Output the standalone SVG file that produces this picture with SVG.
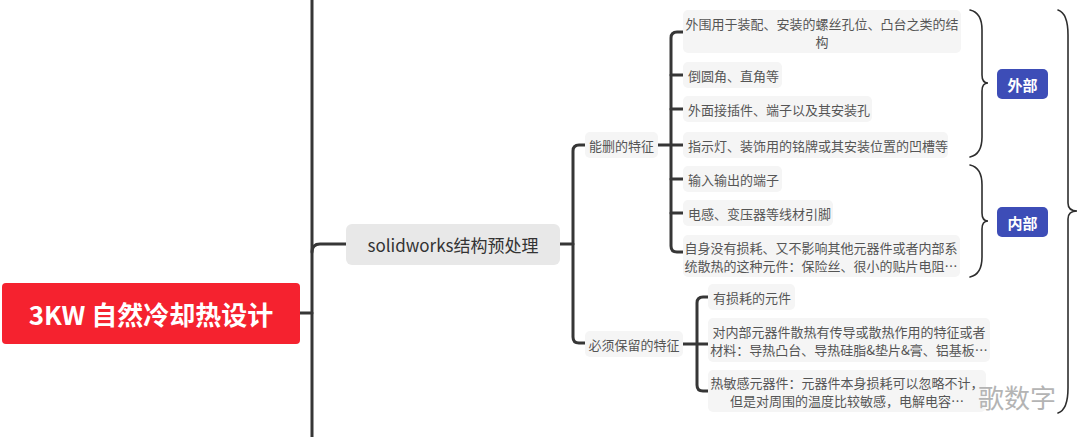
<svg xmlns="http://www.w3.org/2000/svg" width="1080" height="437" viewBox="0 0 1080 437">
<style>
text{font-family:"Noto Sans CJK SC","Noto Sans",sans-serif;dominant-baseline:central}
.c{fill:none;stroke:#363636;stroke-width:3;stroke-linecap:round;stroke-linejoin:round}
.b{fill:none;stroke:#2e2e2e;stroke-width:1.6;stroke-linecap:round}
.leaf{fill:#f5f5f5}
.lt{font-size:13px;fill:#555555}
.sub{fill:#f5f5f5}
.tag{fill:#3d4db7}
.tt{font-size:15px;font-weight:bold;fill:#ffffff}
</style>
<rect width="1080" height="437" fill="#ffffff"/>
<g id="connectors">
<path class="c" d="M312,0 V437"/>
<path class="c" d="M300,313 H312"/>
<path class="c" d="M312,252 Q312,244 320,244 H346"/>
<path class="c" d="M560,244 H573"/>
<path class="c" d="M585,145 H579 Q573,145 573,151 V337 Q573,343 579,343 H585"/>
<path class="c" d="M658,145 H683"/>
<path class="c" d="M683,32 H677 Q671,32 671,38 V246 Q671,252 677,252 H683"/>
<path class="c" d="M671,75 H683 M671,109 H683 M671,179 H683 M671,213 H683"/>
<path class="c" d="M683,344 H708"/>
<path class="c" d="M708,297 H703 Q697,297 697,303 V385 Q697,391 703,391 H708"/>
<path class="b" d="M970,10 C979,12 982,20 982,30 L982,75 C982,80 984,83 988,83 C984,83 982,86 982,91 L982,137 C982,147 979,155 970,157"/>
<path class="b" d="M970,165 C979,167 982,175 982,185 L982,213 C982,218 984,221 988,221 C984,221 982,224 982,229 L982,257 C982,267 979,275 970,277"/>
<path class="b" d="M1058,10 C1064,12 1068,20 1068,35 L1068,203 C1068,208 1071,211 1077,211 C1071,211 1068,214 1068,219 L1068,388 C1068,403 1064,411 1058,413"/>
</g>
<g id="root">
<rect x="2" y="283" width="298" height="61" rx="4" fill="#f5222f"/>
<text x="151" y="313" text-anchor="middle" font-size="26" font-weight="bold" fill="#ffffff">3KW 自然冷却热设计</text>
</g>
<g id="solidworks">
<rect x="346" y="224" width="214" height="41" rx="6" fill="#e8e8e8"/>
<text x="453" y="244.5" text-anchor="middle" font-size="17" fill="#333333">solidworks结构预处理</text>
</g>
<g id="n-delete">
<rect class="sub" x="585" y="132" width="73" height="26" rx="5"/>
<text class="lt" x="621.5" y="145" text-anchor="middle">能删的特征</text>
</g>
<g id="n-keep">
<rect class="sub" x="585" y="331" width="98" height="26" rx="5"/>
<text class="lt" x="634" y="344" text-anchor="middle">必须保留的特征</text>
</g>
<g id="d1">
<rect class="leaf" x="683" y="10" width="278" height="43" rx="5"/>
<text class="lt" x="822" y="23" text-anchor="middle">外围用于装配、安装的螺丝孔位、凸台之类的结</text>
<text class="lt" x="822" y="41" text-anchor="middle">构</text>
</g>
<g id="d2">
<rect class="leaf" x="683" y="62" width="99" height="26" rx="5"/>
<text class="lt" x="688" y="75">倒圆角、直角等</text>
</g>
<g id="d3">
<rect class="leaf" x="683" y="96" width="189" height="26" rx="5"/>
<text class="lt" x="688" y="109">外面接插件、端子以及其安装孔</text>
</g>
<g id="d4">
<rect class="leaf" x="683" y="132" width="265" height="26" rx="5"/>
<text class="lt" x="688" y="145">指示灯、装饰用的铭牌或其安装位置的凹槽等</text>
</g>
<g id="d5">
<rect class="leaf" x="683" y="166" width="99" height="26" rx="5"/>
<text class="lt" x="688" y="179">输入输出的端子</text>
</g>
<g id="d6">
<rect class="leaf" x="683" y="200" width="150" height="26" rx="5"/>
<text class="lt" x="688" y="213">电感、变压器等线材引脚</text>
</g>
<g id="d7">
<rect class="leaf" x="683" y="235" width="277" height="42" rx="5"/>
<text class="lt" x="821" y="247.5" text-anchor="middle">自身没有损耗、又不影响其他元器件或者内部系</text>
<text class="lt" x="821" y="265" text-anchor="middle">统散热的这种元件：保险丝、很小的贴片电阻…</text>
</g>
<g id="k1">
<rect class="leaf" x="708" y="284" width="87" height="26" rx="5"/>
<text class="lt" x="713" y="297">有损耗的元件</text>
</g>
<g id="k2">
<rect class="leaf" x="708" y="318" width="282" height="44" rx="5"/>
<text class="lt" x="849" y="331" text-anchor="middle">对内部元器件散热有传导或散热作用的特征或者</text>
<text class="lt" x="849" y="349" text-anchor="middle">材料：导热凸台、导热硅脂&amp;垫片&amp;膏、铝基板…</text>
</g>
<g id="k3">
<rect class="leaf" x="708" y="370" width="278" height="42" rx="5"/>
<text class="lt" x="847" y="382.5" text-anchor="middle">热敏感元器件：元器件本身损耗可以忽略不计，</text>
<text class="lt" x="847" y="400" text-anchor="middle">但是对周围的温度比较敏感，电解电容…</text>
</g>
<g id="tag-out">
<rect class="tag" x="997" y="69" width="51" height="30" rx="5"/>
<text class="tt" x="1022.5" y="84" text-anchor="middle">外部</text>
</g>
<g id="tag-in">
<rect class="tag" x="997" y="207" width="51" height="30" rx="5"/>
<text class="tt" x="1022.5" y="222" text-anchor="middle">内部</text>
</g>
<g id="watermark">
<text x="978" y="396" font-size="26" fill="#b4b4b4">歌数字</text>
</g>
</svg>
